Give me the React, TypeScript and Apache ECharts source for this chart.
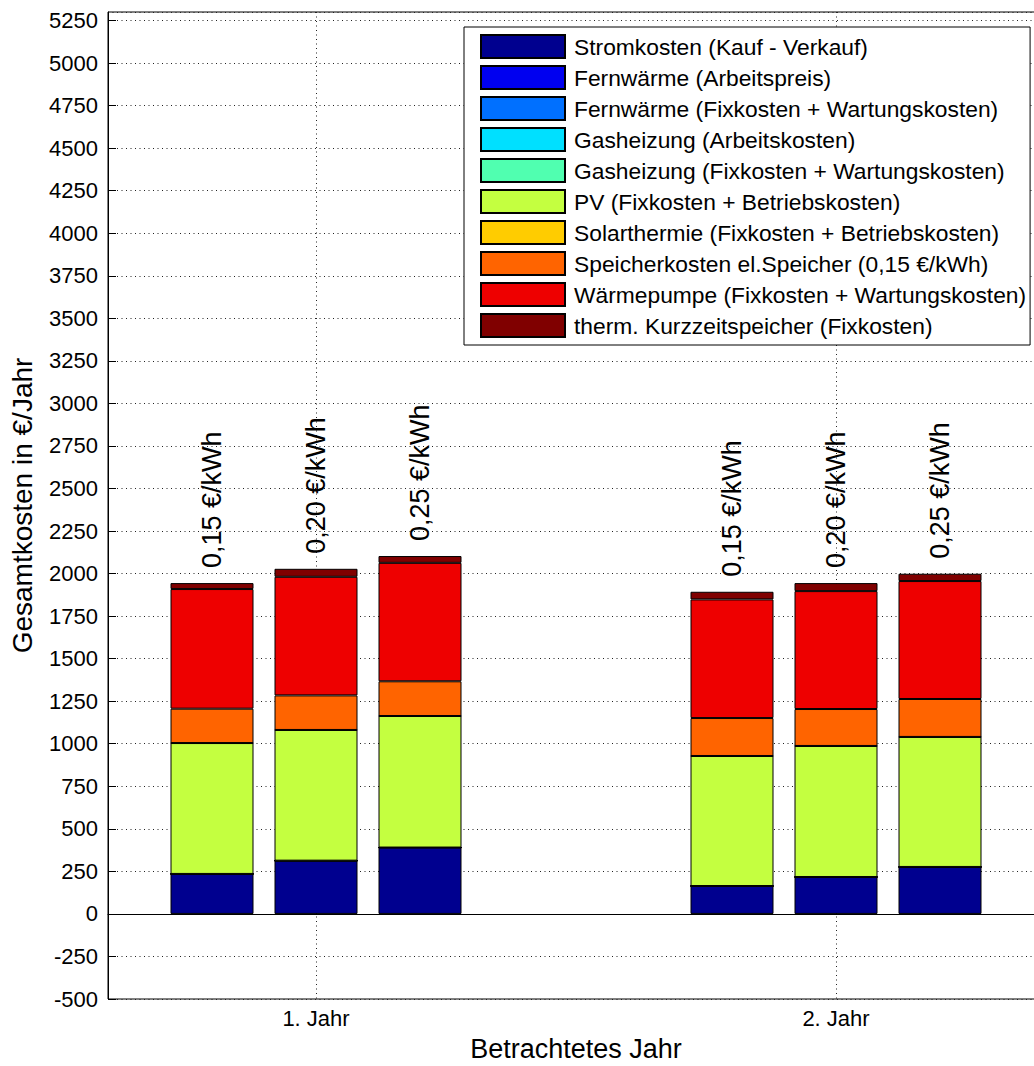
import React, { useEffect, useRef } from "react";
import * as echarts from "echarts";

// Years (x positions on the value axis) and their tick labels
const yearPositions = [1, 2];
const yearLabels = ["1. Jahr", "2. Jahr"];
// Electricity price variants per year (bar labels)
const priceLabels = ["0,15 €/kWh", "0,20 €/kWh", "0,25 €/kWh"];
const priceOffsets = [-0.2, 0, 0.2];

// Values in €/Jahr, order: 1. Jahr (0,15 / 0,20 / 0,25), 2. Jahr (0,15 / 0,20 / 0,25)
const stromkosten = [235, 313, 390, 164, 217, 276];
const fernwaermeArbeit = [0, 0, 0, 0, 0, 0];
const fernwaermeFix = [0, 0, 0, 0, 0, 0];
const gasArbeit = [0, 0, 0, 0, 0, 0];
const gasFix = [0, 0, 0, 0, 0, 0];
const pvKosten = [769, 768, 773, 764, 770, 764];
const solarthermie = [0, 0, 0, 0, 0, 0];
const speicherKosten = [202, 203, 204, 223, 217, 223];
const waermepumpe = [703, 697, 696, 697, 693, 693];
const thermSpeicher = [35, 47, 40, 45, 47, 43];

const seriesNames = [
  "Stromkosten (Kauf - Verkauf)",
  "Fernwärme (Arbeitspreis)",
  "Fernwärme (Fixkosten + Wartungskosten)",
  "Gasheizung (Arbeitskosten)",
  "Gasheizung (Fixkosten + Wartungskosten)",
  "PV (Fixkosten + Betriebskosten)",
  "Solarthermie (Fixkosten + Betriebskosten)",
  "Speicherkosten el.Speicher (0,15 €/kWh)",
  "Wärmepumpe (Fixkosten + Wartungskosten)",
  "therm. Kurzzeitspeicher (Fixkosten)",
];
const seriesValues = [
  stromkosten,
  fernwaermeArbeit,
  fernwaermeFix,
  gasArbeit,
  gasFix,
  pvKosten,
  solarthermie,
  speicherKosten,
  waermepumpe,
  thermSpeicher,
];
const seriesColors = [
  "#00008F",
  "#0000F0",
  "#0070FF",
  "#00E0FF",
  "#50FFB0",
  "#C4FF40",
  "#FFCC00",
  "#FF6400",
  "#EE0000",
  "#800000",
];

const FONT = "'Liberation Sans', Arial, Helvetica, sans-serif";

export default function App() {
  const ref = useRef<HTMLDivElement>(null);

  useEffect(() => {
    if (!ref.current) return;
    const chart = echarts.init(ref.current, null, { renderer: "svg" });

    const xs: number[] = [];
    const labels: string[] = [];
    yearPositions.forEach((y) => {
      priceOffsets.forEach((o, i) => {
        xs.push(Math.round((y + o) * 100) / 100);
        labels.push(priceLabels[i]);
      });
    });

    const series: any[] = seriesNames.map((name, si) => {
      const s: any = {
        name,
        type: "bar",
        stack: "total",
        barWidth: 83,
        // value first so that the stack is computed on the y dimension
        data: seriesValues[si].map((v, i) => [v, xs[i]]),
        encode: { x: 1, y: 0 },
        itemStyle: {
          color: seriesColors[si],
          borderColor: "#000",
          borderWidth: 1,
        },
        emphasis: { disabled: true },
      };
      if (si === 0) {
        s.markLine = {
          silent: true,
          symbol: "none",
          label: { show: false },
          lineStyle: { color: "#000", type: "solid", width: 1 },
          data: [{ yAxis: 0 }],
        };
      }
      if (si === seriesNames.length - 1) {
        s.label = {
          show: true,
          position: "top",
          rotate: 90,
          align: "left",
          verticalAlign: "middle",
          distance: 12,
          offset: [3, 0],
          fontSize: 27,
          fontFamily: FONT,
          color: "#000",
          formatter: (p: any) => labels[p.dataIndex],
        };
      }
      return s;
    });

    const option: any = {
      animation: false,
      textStyle: { fontFamily: FONT, color: "#000" },
      grid: {
        left: 108,
        right: 6,
        top: 12,
        bottom: 67,
        outerBoundsMode: "none",
        containLabel: false,
        show: true,
        borderColor: "#000",
        borderWidth: 1,
        backgroundColor: "transparent",
      },
      legend: {
        orient: "vertical",
        left: 464,
        top: 27,
        icon: "rect",
        itemWidth: 84,
        itemHeight: 23,
        itemGap: 6,
        padding: [7, 4, 7, 16],
        borderColor: "#000",
        borderWidth: 1,
        backgroundColor: "#fff",
        selectedMode: false,
        data: seriesNames,
        textStyle: {
          fontSize: 22.8,
          lineHeight: 23,
          color: "#000",
          fontFamily: FONT,
          padding: [0, 0, 0, 4],
        },
      },
      xAxis: {
        type: "value",
        min: 0.6,
        max: 2.4,
        name: "Betrachtetes Jahr",
        nameLocation: "middle",
        nameGap: 36,
        nameTextStyle: { fontSize: 27, lineHeight: 28, color: "#000", fontFamily: FONT },
        axisLine: { show: true, lineStyle: { color: "#000", width: 1 } },
        axisTick: {
          show: true,
          inside: true,
          length: 8,
          customValues: yearPositions,
          lineStyle: { color: "#000" },
        },
        axisLabel: {
          customValues: yearPositions,
          formatter: (v: number) => {
            const i = yearPositions.indexOf(Math.round(v));
            return i >= 0 ? yearLabels[i] : "";
          },
          fontSize: 22,
          color: "#000",
          margin: 8,
          fontFamily: FONT,
        },
        splitLine: {
          show: true,
          lineStyle: { color: "#222", type: [1, 3.5], width: 1 },
        },
      },
      yAxis: {
        type: "value",
        min: -500,
        max: 5300,
        interval: 250,
        name: "Gesamtkosten in €/Jahr",
        nameLocation: "middle",
        nameGap: 72,
        nameRotate: 90,
        nameTextStyle: { fontSize: 28, color: "#000", fontFamily: FONT },
        axisLine: { show: true, lineStyle: { color: "#000", width: 1 } },
        axisTick: { show: true, inside: true, length: 8, lineStyle: { color: "#000" } },
        axisLabel: {
          fontSize: 22,
          color: "#000",
          margin: 10,
          showMaxLabel: false,
          fontFamily: FONT,
          formatter: (v: number) => String(v),
        },
        splitLine: {
          show: true,
          lineStyle: { color: "#222", type: [1, 3.5], width: 1 },
        },
      },
      series,
    };

    chart.setOption(option);
    return () => chart.dispose();
  }, []);

  return (
    <div
      ref={ref}
      style={{ position: "fixed", left: 0, top: 0, width: 1050, height: 1066, background: "#fff" }}
    />
  );
}
